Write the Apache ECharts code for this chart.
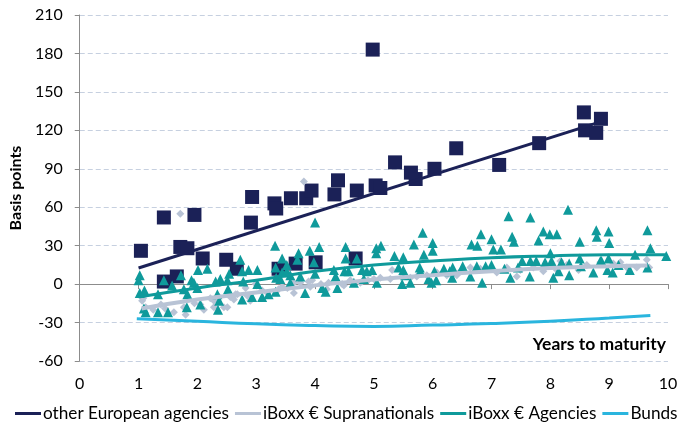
<!DOCTYPE html>
<html>
<head>
<meta charset="utf-8">
<script src="https://cdn.jsdelivr.net/npm/echarts@6/dist/echarts.min.js"></script>
<style>
html, body { margin: 0; padding: 0; background: #fff; }
#main { width: 682px; height: 428px; }
</style>
</head>
<body>
<div id="main"></div>
<script>
// years to maturity / spread in basis points
var otherAgencies = [
    [1.04, 26], [1.43, 52], [1.43, 2], [1.65, 6], [1.71, 29], [1.83, 28], [1.95, 54], [2.09, 20],
    [2.49, 19], [2.67, 12], [2.93, 68], [2.91, 48], [3.31, 63], [3.34, 59], [3.38, 12], [3.59, 67],
    [3.67, 16], [3.85, 67], [3.94, 73], [4.01, 17], [4.33, 70], [4.39, 81], [4.69, 20], [4.71, 73],
    [4.98, 183], [5.03, 77], [5.11, 75], [5.36, 95], [5.63, 87], [5.71, 82], [6.03, 90], [6.4, 106],
    [7.13, 93], [7.81, 110], [8.57, 134], [8.59, 120], [8.78, 118], [8.86, 129]
];
var supras = [
    [1.06, -13], [1.08, -11], [1.12, -18], [1.25, -20], [1.38, -16], [1.45, -19], [1.6, -22], [1.71, 55],
    [1.8, -24], [1.77, -18], [1.95, -15], [2.05, -16], [2.11, -20], [2.22, -11], [2.28, -13], [2.28, -18],
    [2.37, -10], [2.45, -18], [2.51, -18], [2.56, -10], [2.62, -12], [2.65, -8], [2.68, -8], [2.82, -3],
    [2.85, -9], [2.9, -13], [2.99, 0], [3.1, -5], [3.19, -7], [3.38, -4], [3.44, -2], [3.53, -3],
    [3.64, 1], [3.64, -7], [3.75, 1], [3.81, 80], [3.89, 2], [3.92, -2], [3.95, 3], [4.1, 0],
    [4.2, -4], [4.23, 1], [4.46, 0], [4.49, -1], [4.6, 3], [4.77, 1], [4.8, 2], [4.9, 3],
    [5.0, 4], [5.11, 5], [5.28, 4], [5.31, 11], [5.5, 7], [5.62, 5], [5.73, 6], [5.9, 7],
    [6.07, 9], [6.24, 7], [6.41, 7], [6.47, 10], [6.64, 13], [6.81, 12], [7.0, 12], [7.09, 9],
    [7.26, 13], [7.43, 6], [7.49, 11], [7.71, 13], [7.88, 10], [8.11, 11], [8.17, 18], [8.28, 15],
    [8.48, 11], [8.62, 15], [8.85, 17], [9.07, 16], [9.19, 17], [9.3, 13], [9.47, 13], [9.64, 19],
    [9.68, 13]
];
var agencies = [
    [1.02, 7], [1.0, 3], [1.02, -7], [1.1, -5], [1.12, -22], [1.09, -19], [1.33, -8], [1.33, -22],
    [1.5, -22], [1.43, 3], [1.57, -1], [1.72, 7], [1.77, -4], [1.83, -8], [1.82, -18], [1.9, 3],
    [1.94, 1], [2.01, 11], [2.05, -16], [2.0, -3], [2.17, 12], [2.34, -8], [2.37, -13], [2.35, -20],
    [2.31, 2], [2.39, 4], [2.54, 8], [2.51, 3], [2.52, -4], [2.73, 19], [2.76, 10], [2.78, 2],
    [2.76, -12], [2.87, 11], [3.02, 11], [3.02, 0], [2.93, -10], [3.1, -10], [3.21, -8], [3.32, 30],
    [3.33, 13], [3.44, 20], [3.34, 5], [3.41, 4], [3.44, 9], [3.52, 10], [3.58, 7], [3.58, 1],
    [3.52, 15], [3.33, -6], [3.72, 24], [3.7, 19], [3.75, 6], [3.83, -7], [3.91, 26], [4.0, 48],
    [4.07, 29], [3.98, 17], [4.0, 8], [4.12, -3], [4.18, -6], [4.32, 11], [4.35, 6], [4.38, -3],
    [4.52, 29], [4.52, 20], [4.5, 10], [4.57, 10], [4.66, 1], [4.71, 20], [4.8, 11], [4.83, 4],
    [4.97, 11], [5.04, 28], [5.04, 24], [5.12, 30], [5.05, 1], [4.88, 10], [5.35, 22], [5.5, 21],
    [5.42, 13], [5.5, 11], [5.53, 7], [5.48, 0], [5.62, 1], [5.68, 31], [5.83, 40], [6.0, 32],
    [5.85, 23], [6.0, 26], [5.78, 13], [5.79, 10], [6.03, 10], [6.19, 12], [6.29, 10], [5.93, 4],
    [5.98, 1], [6.06, 3], [6.34, 13], [6.33, 5], [6.51, 14], [6.64, 6], [6.75, 14], [6.66, 31],
    [6.76, 30], [6.82, 39], [6.84, 1], [7.0, 35], [7.03, 27], [7.16, 27], [7.0, 15], [7.29, 53],
    [7.35, 37], [7.38, 33], [7.32, 5], [7.52, 18], [7.66, 18], [7.76, 18], [7.66, 52], [7.65, 6],
    [7.8, 34], [7.88, 41], [7.99, 39], [8.11, 39], [8.0, 24], [8.02, 18], [8.05, 5], [7.91, 17],
    [8.3, 58], [8.19, 17], [8.32, 7], [8.5, 33], [8.5, 20], [8.52, 14], [8.73, 9], [8.78, 42],
    [8.79, 37], [8.85, 18], [8.99, 41], [9.0, 32], [8.99, 20], [8.97, 11], [9.06, 9], [9.35, 11],
    [9.44, 23], [9.65, 42], [9.7, 28], [9.65, 13], [9.97, 22], [8.14, 10], [8.32, 16], [8.87, 18],
    [9.16, 15], [7.22, 12], [6.9, 14], [7.45, 13]
];

// trend lines
var otherTrend = [[1, 12.6], [8.85, 126.6]];
var suprasTrend = [[1.05, -19], [2, -12], [3, -6.5], [4, -1], [5, 3.5], [6, 7], [7, 10], [8, 12.5], [9, 14], [9.65, 14.5]];
var agenciesTrend = [[1, -10], [2, -3], [3, 3], [4, 10], [5, 15], [6, 18], [7, 20.5], [8, 22], [9, 23], [9.95, 23]];
var bundsTrend = [[0.97, -27], [2, -29], [3, -31], [4, -32.3], [5, -33], [6, -32], [7, -30.8], [8, -29], [9, -26.4], [9.7, -24.5]];

var names = ['other European agencies', 'iBoxx € Supranationals', 'iBoxx € Agencies', 'Bunds'];
var xMin = 0, xMax = 10, xStep = 1;
var yMin = -60, yMax = 210, yStep = 30;

var font = 'Lato, "Open Sans", sans-serif';
var navy = '#1b2157', grey = '#b8c3d5', teal = '#0f9a9b', blue = '#2ab5de';

var myChart = echarts.init(document.getElementById('main'));
var option = {
    animation: false,
    textStyle: { fontFamily: font },
    grid: { left: 79, right: 14, top: 15, bottom: 67 },
    legend: {
        data: names,
        bottom: 1,
        left: 10,
        width: 720,
        icon: 'rect',
        itemWidth: 26,
        itemHeight: 3,
        itemGap: 6,
        textStyle: { fontFamily: font, fontSize: 17.2, color: '#000', padding: [0, 0, 0, -3] }
    },
    xAxis: {
        type: 'value',
        min: xMin, max: xMax, interval: xStep,
        axisLine: { lineStyle: { color: '#8c8c8c' } },
        axisTick: { show: true, length: 5, lineStyle: { color: '#8c8c8c' } },
        axisLabel: { fontSize: 16, color: '#000', margin: 15 },
        splitLine: { show: false }
    },
    yAxis: {
        type: 'value',
        min: yMin, max: yMax, interval: yStep,
        name: 'Basis points',
        nameLocation: 'middle',
        nameGap: 53,
        nameTextStyle: { fontWeight: 'bold', fontSize: 16, color: '#000' },
        axisLine: { show: true, lineStyle: { color: '#8c8c8c' } },
        axisTick: { show: true, length: 5, lineStyle: { color: '#8c8c8c' } },
        axisLabel: { fontSize: 16, color: '#000', margin: 17 },
        splitLine: { lineStyle: { color: '#c6d0e0', type: [5, 3], width: 1 } }
    },
    graphic: [{
        type: 'text',
        right: 16,
        top: 335,
        style: { text: 'Years to maturity', fontFamily: font, fontSize: 17.5, fontWeight: 'bold', fill: '#000' }
    }],
    series: [
        {
            name: 'other agencies points', type: 'scatter', data: otherAgencies,
            symbol: 'rect', symbolSize: 14, itemStyle: { color: navy, opacity: 1 }, z: 2
        },
        {
            name: 'supras points', type: 'scatter', data: supras,
            symbol: 'diamond', symbolSize: 8, itemStyle: { color: grey, opacity: 1 }, z: 3
        },
        {
            name: 'agencies points', type: 'scatter', data: agencies,
            symbol: 'triangle', symbolSize: 10, itemStyle: { color: teal, opacity: 1 }, z: 4
        },
        {
            name: names[0], type: 'line', data: otherTrend, showSymbol: false,
            lineStyle: { color: navy, width: 3 }, itemStyle: { color: navy }, z: 5
        },
        {
            name: names[1], type: 'line', data: suprasTrend, showSymbol: false, smooth: true,
            lineStyle: { color: grey, width: 4 }, itemStyle: { color: grey }, z: 5
        },
        {
            name: names[2], type: 'line', data: agenciesTrend, showSymbol: false, smooth: true,
            lineStyle: { color: teal, width: 3 }, itemStyle: { color: teal }, z: 5
        },
        {
            name: names[3], type: 'line', data: bundsTrend, showSymbol: false, smooth: true,
            lineStyle: { color: blue, width: 3 }, itemStyle: { color: blue }, z: 5
        }
    ]
};
option && myChart.setOption(option);
</script>
</body>
</html>
